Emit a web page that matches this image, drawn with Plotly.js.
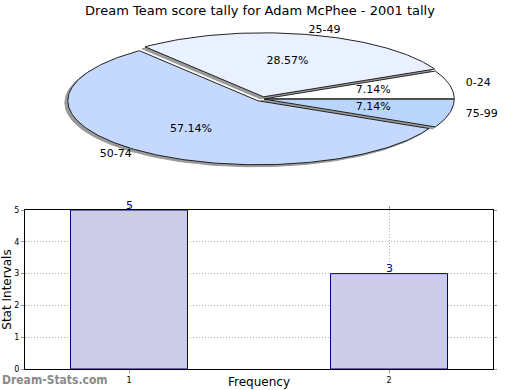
<!DOCTYPE html>
<html><head>
<meta charset="utf-8">
<script src="https://cdn.plot.ly/plotly-3.0.1.min.js"></script>
<style>body{margin:0;background:#fff}</style>
</head><body>
<div id="c" style="width:520px;height:390px"></div>
<script>
// ---- data ----
const chartTitle = 'Dream Team score tally for Adam McPhee - 2001 tally';
const sliceLabels = ['0-24', '25-49', '50-74', '75-99'];
const sliceCounts = [1, 4, 8, 1];
const barCategories = [1, 2];
const barValues = [5, 3];
const xTitle = 'Frequency';
const yTitle = 'Stat Intervals';
const watermark = 'Dream-Stats.com';

// ---- styles ----
const sliceColors = ['#ffffff', '#e9f0ff', '#c5d8fd', '#b9d5fc'];
const explode = [0.012, 0.035, 0.035, 0.012];
const PIE = {cx: 262, cy: 99, rx: 190, ry: 64};
const SHADOW = {dx: -3, dy: 2, color: '#9a9a9a'};
const FONT = 'DejaVu Sans, sans-serif';

const total = sliceCounts.reduce((a, b) => a + b, 0);
const traces = [];
const shadowTraces = [], sliceTraces = [];
const pctX = [], pctY = [], pctT = [];
const labR = {x: [], y: [], t: []}, labL = {x: [], y: [], t: []};
let start = 0;
sliceCounts.forEach((v, i) => {
  const a0 = start, a1 = start + v / total * 2 * Math.PI;
  start = a1;
  const mid = (a0 + a1) / 2;
  const ox = explode[i] * PIE.rx * Math.cos(mid);
  const oy = -explode[i] * PIE.ry * Math.sin(mid);
  const xs = [PIE.cx + ox], ys = [PIE.cy + oy];
  const n = Math.max(8, Math.ceil((a1 - a0) / (Math.PI / 180)));
  for (let k = 0; k <= n; k++) {
    const a = a0 + (a1 - a0) * k / n;
    xs.push(PIE.cx + ox + PIE.rx * Math.cos(a));
    ys.push(PIE.cy + oy - PIE.ry * Math.sin(a));
  }
  xs.push(xs[0]); ys.push(ys[0]);
  shadowTraces.push({type: 'scatter', mode: 'lines', x: xs.map(x => x + SHADOW.dx), y: ys.map(y => y + SHADOW.dy),
    fill: 'toself', fillcolor: SHADOW.color, line: {color: SHADOW.color, width: 1},
    xaxis: 'x2', yaxis: 'y2', hoverinfo: 'skip', showlegend: false});
  sliceTraces.push({type: 'scatter', mode: 'lines', x: xs, y: ys,
    fill: 'toself', fillcolor: sliceColors[i], line: {color: '#222', width: 1},
    xaxis: 'x2', yaxis: 'y2', hoverinfo: 'skip', showlegend: false});
  pctX.push(PIE.cx + 0.6 * PIE.rx * Math.cos(mid));
  pctY.push(PIE.cy - 0.6 * PIE.ry * Math.sin(mid));
  pctT.push((v / total * 100).toFixed(2) + '%');
  const lx = PIE.cx + 1.1 * PIE.rx * Math.cos(mid);
  const ly = PIE.cy - 1.1 * PIE.ry * Math.sin(mid);
  const tgt = Math.cos(mid) >= 0 ? labR : labL;
  tgt.x.push(lx); tgt.y.push(ly); tgt.t.push(sliceLabels[i]);
});
traces.push(...shadowTraces, ...sliceTraces);
traces.push({type: 'scatter', mode: 'text', x: pctX, y: pctY, text: pctT,
  textfont: {family: FONT, size: 11, color: '#000'}, xaxis: 'x2', yaxis: 'y2', hoverinfo: 'skip', showlegend: false});
traces.push({type: 'scatter', mode: 'text', x: labR.x, y: labR.y, text: labR.t, textposition: 'middle right',
  textfont: {family: FONT, size: 11, color: '#000'}, xaxis: 'x2', yaxis: 'y2', hoverinfo: 'skip', showlegend: false});
traces.push({type: 'scatter', mode: 'text', x: labL.x, y: labL.y, text: labL.t, textposition: 'middle left',
  textfont: {family: FONT, size: 11, color: '#000'}, xaxis: 'x2', yaxis: 'y2', hoverinfo: 'skip', showlegend: false});

traces.push({type: 'bar', x: barCategories, y: barValues, width: 0.45,
  marker: {color: '#ccccE6', line: {color: '#000080', width: 1}},
  hoverinfo: 'skip', showlegend: false});

const W = 520, H = 390;
const gridStyle = {showgrid: true, gridcolor: '#b4b4b4', griddash: '1px,2px', gridwidth: 1, zeroline: false,
  showline: true, linecolor: '#000', linewidth: 1, mirror: 'ticks', ticks: 'outside', ticklen: 3, tickcolor: '#999',
  tickfont: {family: FONT, size: 8}};
const annotations = barCategories.map((c, i) => ({x: c, y: barValues[i], xref: 'x', yref: 'y', text: String(barValues[i]),
  showarrow: false, yanchor: 'middle', yshift: 5, font: {family: FONT, size: 11, color: '#000080'}}));
annotations.push({text: watermark, xref: 'paper', yref: 'paper', x: 0, y: 1 - 380 / H, xanchor: 'left', yanchor: 'middle',
  showarrow: false, font: {family: 'DejaVu Sans Condensed, DejaVu Sans, sans-serif', size: 12, weight: 'bold', color: '#8a8a8a'}});
annotations.push({text: xTitle, xref: 'x domain', yref: 'paper', x: 0.5, y: 0, xanchor: 'center', yanchor: 'bottom',
  showarrow: false, borderpad: 0, font: {family: FONT, size: 12, color: '#000'}});

const layout = {
  width: W, height: H,
  margin: {l: 0, r: 0, t: 0, b: 0},
  paper_bgcolor: '#fff', plot_bgcolor: 'rgba(0,0,0,0)',
  font: {family: FONT, size: 8, color: '#000'},
  title: {text: chartTitle, x: 0.5, xanchor: 'center', y: 1 - 10 / H, yanchor: 'middle', yref: 'container',
    font: {family: FONT, size: 13, color: '#000'}},
  showlegend: false,
  bargap: 0,
  xaxis: Object.assign({}, gridStyle, {domain: [25 / W, 493 / W], range: [0.6, 2.4], tickvals: barCategories,
    ticktext: barCategories.map(String), anchor: 'y'}),
  yaxis: Object.assign({}, gridStyle, {domain: [1 - 369 / H, 1 - 210 / H], range: [0, 5], dtick: 1, anchor: 'x',
    title: {text: yTitle, font: {family: FONT, size: 12}, standoff: 5}}),
  xaxis2: {domain: [0, 1], range: [0, W], visible: false, fixedrange: true, anchor: 'y2'},
  yaxis2: {domain: [0, 1], range: [H, 0], visible: false, fixedrange: true, anchor: 'x2'},
  annotations: annotations
};
Plotly.newPlot('c', traces, layout, {staticPlot: true, displayModeBar: false});
</script>
</body></html>
